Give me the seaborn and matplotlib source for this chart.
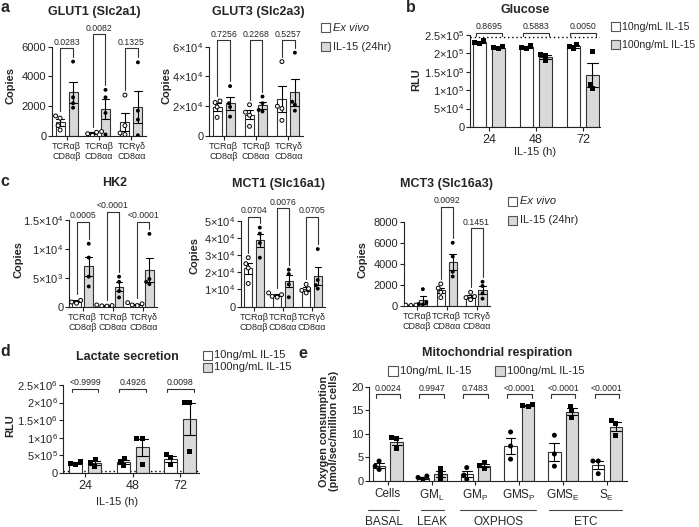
import numpy as np
import pandas as pd
import matplotlib
matplotlib.use("Agg")
import matplotlib.pyplot as plt
import matplotlib.transforms as mtrans
from matplotlib.patches import Rectangle
import seaborn as sns

# ------------------------------------------------------------------ data
cell_types = ["TCRαβ\nCD8αβ", "TCRαβ\nCD8αα", "TCRγδ\nCD8αα"]
cond_ac = ["Ex vivo", "IL-15 (24hr)"]

glut1_ex = [[1350, 1200, 700, 400], [300, 250, 150, 50], [2750, 700, 200, 100]]
glut1_il = [[5000, 2600, 2200, 1900], [3100, 2600, 1550, 100], [4950, 1700, 1100, 50]]
glut1_p = ["0.0283", "0.0082", "0.1325"]
glut1_ticks = [0, 2000, 4000, 6000]
glut1_ticklabels = ["0", "2000", "4000", "6000"]

glut3_ex = [[23500, 22500, 19500, 12500], [21000, 16000, 14000, 6500], [50000, 20000, 18500, 10500]]
glut3_il = [[33500, 22000, 19500, 13000], [26500, 22000, 17500, 16500], [56000, 23000, 21000, 17000]]
glut3_p = ["0.7256", "0.2268", "0.5257"]
glut3_ticks = [0, 20000, 40000, 60000]
glut3_ticklabels = ["0", "2×10$^4$", "4×10$^4$", "6×10$^4$"]

hk2_ex = [[1300, 1100, 800, 600], [300, 200, 150, 100], [700, 500, 300, 200]]
hk2_il = [[10900, 8500, 5200, 3500], [5200, 4300, 2700, 1600], [12600, 4800, 4300, 3900]]
hk2_p = ["0.0005", "<0.0001", "<0.0001"]
hk2_ticks = [0, 5000, 10000, 15000]
hk2_ticklabels = ["0", "5×10$^3$", "1×10$^4$", "1.5×10$^4$"]

mct1_ex = [[28500, 25000, 22500, 13500], [8000, 7000, 6000, 5500], [13000, 10500, 9500, 8000]]
mct1_il = [[46000, 42500, 37000, 28500], [21500, 19000, 13000, 5500], [33500, 15500, 12500, 10500]]
mct1_p = ["0.0704", "0.0076", "0.0705"]
mct1_ticks = [0, 10000, 20000, 30000, 40000, 50000]
mct1_ticklabels = ["0", "1×10$^4$", "2×10$^4$", "3×10$^4$", "4×10$^4$", "5×10$^4$"]

mct3_ex = [[200, 100, 80, 50], [2100, 1700, 1300, 800], [1300, 900, 800, 600]]
mct3_il = [[1600, 350, 200, 150], [6000, 4700, 3250, 2800], [2300, 1900, 1200, 700]]
mct3_p = [None, "0.0092", "0.1451"]
mct3_ticks = [0, 2000, 4000, 6000, 8000]
mct3_ticklabels = ["0", "2000", "4000", "6000", "8000"]

hours = ["24", "48", "72"]
cond_bd = ["10ng/mL IL-15", "100ng/mL IL-15"]

glucose_10 = [[235000, 230000, 228000], [222000, 217000, 214000], [220000, 225000, 213000]]
glucose_100 = [[220000, 215000, 212000], [198000, 195000, 180000], [205000, 116000, 104000]]
glucose_p = ["0.8695", "0.5883", "0.0050"]
glucose_medium = 245000
glucose_ticks = [0, 50000, 100000, 150000, 200000, 250000]
glucose_ticklabels = ["0", "5×10$^4$", "1×10$^5$", "1.5×10$^5$", "2×10$^5$", "2.5×10$^5$"]

lactate_10 = [[320000, 280000, 250000], [410000, 320000, 200000], [520000, 450000, 230000]]
lactate_100 = [[380000, 290000, 190000], [970000, 970000, 250000], [2000000, 2000000, 610000]]
lactate_p = ["<0.9999", "0.4926", "0.0098"]
lactate_medium = 60000
lactate_ticks = [0, 500000, 1000000, 1500000, 2000000, 2500000]
lactate_ticklabels = ["0", "5×10$^5$", "1×10$^6$", "1.5×10$^6$", "2×10$^6$", "2.5×10$^6$"]

resp_states = ["Cells", "GM$_L$", "GM$_P$", "GMS$_P$", "GMS$_E$", "S$_E$"]
resp_10 = [[4.2, 3.1, 2.4], [1.0, 0.7, 0.3], [2.8, 1.2, 0.3],
           [10.4, 7.4, 4.6], [9.7, 5.7, 3.1], [4.2, 4.2, 1.5]]
resp_100 = [[9.2, 9.0, 6.8], [2.6, 1.4, 0.2], [3.9, 3.2, 2.6],
            [16.3, 16.0, 15.9], [15.9, 14.9, 13.4], [12.8, 12.2, 9.6]]
resp_p = ["0.0024", "0.9947", "0.7483", "<0.0001", "<0.0001", "<0.0001"]
resp_groups = ["BASAL", "LEAK", "OXPHOS", "ETC"]
resp_ticks = [0, 5, 10, 15, 20]
resp_ticklabels = ["0", "5", "10", "15", "20"]

# ------------------------------------------------------------------ style
sns.set_theme(style="ticks")
plt.rcParams["font.family"] = ["Liberation Sans", "DejaVu Sans"]
plt.rcParams["mathtext.default"] = "regular"
plt.rcParams["axes.linewidth"] = 0.8

W, H = 699, 527
fig = plt.figure(figsize=(W / 100, H / 100), dpi=100)
INK = "#222222"
GREY = "#d9d9d9"


def rect(x0, x1, ytop, ybot):
    return [x0 / W, 1 - ybot / H, (x1 - x0) / W, (ybot - ytop) / H]


def ftext(x, y, s, **kw):
    fig.text(x / W, 1 - y / H, s, ha=kw.pop("ha", "center"), va=kw.pop("va", "center"), **kw)


def long_df(cats, groups, series):
    rows = []
    for g, ser in zip(groups, series):
        for c, vals in zip(cats, ser):
            for v in vals:
                rows.append((c, g, v))
    return pd.DataFrame(rows, columns=["cat", "cond", "val"])


def style_axis(ax, ylim, ticks, labels, xlim, xfs, yfs=8):
    ax.set_ylim(*ylim)
    ax.set_xlim(*xlim)
    ax.set_yticks(ticks)
    ax.set_yticklabels(labels, fontsize=yfs)
    ax.tick_params(axis="x", labelsize=xfs, length=3, width=0.8, color=INK, pad=2)
    ax.tick_params(axis="y", length=3, width=0.8, color=INK, pad=1)
    for s in ["top", "right"]:
        ax.spines[s].set_visible(False)
    for s in ["left", "bottom"]:
        ax.spines[s].set_color(INK)
        ax.spines[s].set_linewidth(0.8)
    ax.set_xlabel("")
    ax.set_ylabel("")
    ax.set_facecolor("none")


def draw_bars(ax, df, cats, groups, markers, facecols, edgelw, size):
    sns.barplot(data=df, x="cat", y="val", hue="cond", order=cats, hue_order=groups,
                palette={groups[0]: "white", groups[1]: GREY}, errorbar="se",
                capsize=0.45, gap=0.3, width=0.8, edgecolor="#333333", linewidth=0.8,
                err_kws={"linewidth": 0.8, "color": "black"}, legend=False, ax=ax)
    for g, m, fc, lw in zip(groups, markers, facecols, edgelw):
        sub = df[df.cond == g]
        sns.swarmplot(data=sub, x="cat", y="val", hue="cond", order=cats, hue_order=groups,
                      palette={groups[0]: fc, groups[1]: fc}, dodge=True, marker=m,
                      size=size, edgecolor="black", linewidth=lw, legend=False, ax=ax)


def stats(vals):
    v = np.asarray(vals, float)
    return v.mean(), v.std(ddof=1) / np.sqrt(len(v))


def ac_panel(rct, ex, il, pvals, levels, ylim, ticks, labels):
    ax = fig.add_axes(rct)
    df = long_df(cell_types, cond_ac, [ex, il])
    draw_bars(ax, df, cell_types, cond_ac, ["o", "o"], ["white", "black"], [0.7, 0], 2.8)
    style_axis(ax, ylim, ticks, labels, (-0.45, 2.45), 6.5)
    ax.tick_params(axis="x", pad=1.5)
    for t in ax.get_xticklabels():
        t.set_linespacing(1.15)
    hpx = rct[3] * H
    pad = 5 / hpx * ylim[1]
    trans = mtrans.offset_copy(ax.transData, fig=fig, y=1.5, units="dots")
    for i, (p, top) in enumerate(zip(pvals, levels)):
        if p is None:
            continue
        lo = []
        for ser in (ex, il):
            m, se = stats(ser[i])
            lo.append(max(max(ser[i]), m + se) + pad)
        ax.plot([i - 0.2, i - 0.2, i + 0.2, i + 0.2], [lo[0], top, top, lo[1]],
                color="#333333", lw=0.8, clip_on=False)
        ax.text(i, top, p, ha="center", va="bottom", fontsize=6.3, transform=trans)
    return ax


def bd_panel(rct, cats, a, b, pvals, level, ylim, ticks, labels, xlim, markers, facecols, xfs):
    ax = fig.add_axes(rct)
    df = long_df(cats, cond_bd, [a, b])
    draw_bars(ax, df, cats, cond_bd, markers, facecols, [0, 0], 3.6)
    style_axis(ax, ylim, ticks, labels, xlim, xfs)
    hpx = rct[3] * H
    leg = 3.5 / hpx * ylim[1]
    trans = mtrans.offset_copy(ax.transData, fig=fig, y=1.5, units="dots")
    for i, p in enumerate(pvals):
        ax.plot([i - 0.28, i - 0.28, i + 0.28, i + 0.28], [level - leg, level, level, level - leg],
                color="#333333", lw=0.8, clip_on=False)
        ax.text(i, level, p, ha="center", va="bottom", fontsize=6.3, transform=trans)
    return ax


def box_legend(xs, ys, labels, italic_first=False, size=9, fs=8, gap=3):
    for k, (x, y, lab) in enumerate(zip(xs, ys, labels)):
        fc = "white" if k == 0 else GREY
        fig.add_artist(Rectangle((x / W, 1 - (y + size / 2) / H), size / W, size / H,
                                 transform=fig.transFigure, facecolor=fc,
                                 edgecolor="#555555", lw=0.8))
        st = "italic" if (italic_first and k == 0) else "normal"
        ftext(x + size + gap, y, lab, ha="left", fontsize=fs, style=st)


TITLE = dict(fontsize=9, fontweight="bold")
LETTER = dict(fontsize=11.5, fontweight="bold")
YLAB = dict(fontsize=8, fontweight="bold", rotation=90)

# ---------------- panel a
ac_panel(rect(52, 146, 46.7, 136), glut1_ex, glut1_il, glut1_p, [5900, 6850, 5900],
         (0, 6000), glut1_ticks, glut1_ticklabels)
ac_panel(rect(209, 303, 46.7, 136), glut3_ex, glut3_il, glut3_p, [64500, 64500, 64500],
         (0, 60000), glut3_ticks, glut3_ticklabels)
ftext(5, 8, "a", **LETTER)
ftext(94, 12, "GLUT1 (Slc2a1)", **TITLE)
ftext(258, 12, "GLUT3 (Slc2a3)", **TITLE)
ftext(10, 86, "Copies", **YLAB)
ftext(166, 86, "Copies", **YLAB)
box_legend([321, 321], [27.5, 46.5], cond_ac, italic_first=True)

# ---------------- panel b
axb = bd_panel(rect(470, 600, 35, 127), hours, glucose_10, glucose_100, glucose_p, 255500,
               (0, 250000), glucose_ticks, glucose_ticklabels, (-0.4, 2.36),
               ["s", "s"], ["black", "black"], 9)
axb.axhline(glucose_medium, ls=(0, (1, 2)), color="black", lw=1.0, zorder=0)
ftext(411, 8, "b", **LETTER)
ftext(525, 10, "Glucose", **TITLE)
ftext(416, 80, "RLU", **YLAB)
ftext(535, 152, "IL-15 (h)", fontsize=8)
box_legend([611, 611], [26.5, 44.5], cond_bd, fs=7.6, gap=2)

# ---------------- panel c
ac_panel(rect(69, 157, 220, 306.7), hk2_ex, hk2_il, hk2_p, [14700, 16440, 14700],
         (0, 15000), hk2_ticks, hk2_ticklabels)
ac_panel(rect(241, 325, 220.7, 306.7), mct1_ex, mct1_il, mct1_p, [52300, 57200, 52300],
         (0, 50000), mct1_ticks, mct1_ticklabels)
ac_panel(rect(403.5, 490, 221.7, 306), mct3_ex, mct3_il, mct3_p, [None, 9420, 7370],
         (0, 8000), mct3_ticks, mct3_ticklabels)
ftext(5, 182, "c", **LETTER)
ftext(115, 183, "HK2", **TITLE)
ftext(278, 184, "MCT1 (Slc16a1)", **TITLE)
ftext(446, 184, "MCT3 (Slc16a3)", **TITLE)
ftext(18, 260, "Copies", **YLAB)
ftext(195, 255, "Copies", **YLAB)
ftext(363, 260, "Copies", **YLAB)
box_legend([508, 508], [201.5, 220], cond_ac, italic_first=True)

# ---------------- panel d
axd = bd_panel(rect(63.3, 199.3, 385, 473), hours, lactate_10, lactate_100, lactate_p, 2400000,
               (0, 2500000), lactate_ticks, lactate_ticklabels, (-0.46, 2.4),
               ["s", "s"], ["black", "black"], 9)
axd.axhline(lactate_medium, ls=(0, (1, 2)), color="black", lw=1.0, zorder=0)
ftext(5, 352, "d", **LETTER)
ftext(127, 357, "Lactate secretion", **TITLE)
ftext(10, 426, "RLU", **YLAB)
ftext(117, 502, "IL-15 (h)", fontsize=8)
box_legend([203, 203], [355.5, 367.5], cond_bd, gap=2)

# ---------------- panel e
axe = bd_panel(rect(369, 626.7, 387, 480.7), resp_states, resp_10, resp_100, resp_p, 18.5,
               (0, 20), resp_ticks, resp_ticklabels, (-0.43, 5.45),
               ["o", "s"], ["black", "black"], 8.5)
xt = axe.get_xaxis_transform()
h_e = 480.7 - 387
y_line = -(510 - 480.7) / h_e
y_txt = -(521.7 - 480.7) / h_e
spans = [(-0.45, 0.25), (0.75, 1.27), (1.65, 3.38), (3.68, 5.35)]
for (x0, x1), name in zip(spans, resp_groups):
    axe.plot([x0, x1], [y_line, y_line], transform=xt, color="#444444", lw=0.8, clip_on=False)
    axe.text((x0 + x1) / 2, y_txt, name, transform=xt, ha="center", va="center", fontsize=8.5)
ftext(303, 353, "e", **LETTER)
ftext(497, 353, "Mitochondrial respiration", **TITLE)
ftext(329, 431, "Oxygen consumption\n(pmol/sec/million cells)", fontsize=7.8,
      fontweight="bold", rotation=90, linespacing=1.1)
box_legend([388, 495], [371, 371], cond_bd, size=10, fs=8, gap=2)

fig.savefig("out.png", dpi=100)
